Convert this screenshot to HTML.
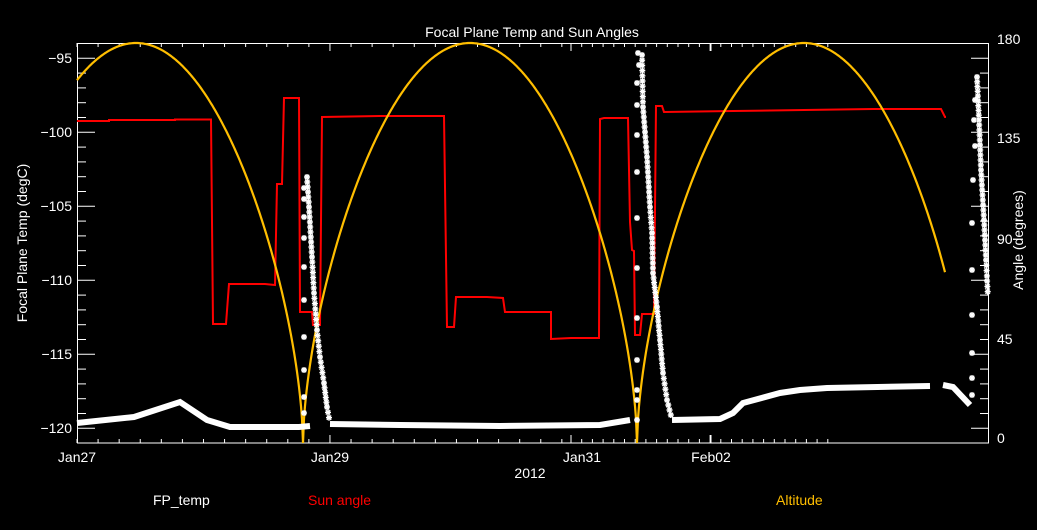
<!DOCTYPE html>
<html><head><meta charset="utf-8"><style>
html,body{margin:0;padding:0;background:#000;}
svg{display:block;}
text{font-family:"Liberation Sans",sans-serif;fill:#fff;}
</style></head><body>
<svg id="s" width="1037" height="530" viewBox="0 0 1037 530" xmlns="http://www.w3.org/2000/svg">
<rect width="1037" height="530" fill="#000"/>
<text x="532" y="37" font-size="14" text-anchor="middle">Focal Plane Temp and Sun Angles</text>
<g id="ax" stroke="#fff" stroke-width="1" fill="none"><rect x="77.5" y="43.5" width="911" height="399.5"/></g>
<g font-size="14" text-anchor="end">
<text x="72" y="63">−95</text><text x="72" y="137">−100</text><text x="72" y="211">−105</text>
<text x="72" y="285">−110</text><text x="72" y="359">−115</text><text x="72" y="433">−120</text>
</g>
<g font-size="14" text-anchor="start">
<text x="997" y="44">180</text><text x="997" y="143">135</text><text x="997" y="244">90</text>
<text x="997" y="344">45</text><text x="997" y="443">0</text>
</g>
<g font-size="14" text-anchor="middle">
<text x="77" y="462">Jan27</text><text x="330" y="462">Jan29</text><text x="582" y="462">Jan31</text>
<text x="711" y="462">Feb02</text><text x="530" y="478">2012</text>
</g>
<text transform="translate(27,243) rotate(-90)" font-size="14" text-anchor="middle">Focal Plane Temp (degC)</text>
<text transform="translate(1023,240) rotate(-90)" font-size="14" text-anchor="middle">Angle (degrees)</text>
<g font-size="14">
<text x="153" y="505">FP_temp</text>
<text x="308" y="505" style="fill:#ff0000">Sun angle</text>
<text x="776" y="505" style="fill:#ffbe00">Altitude</text>
</g>
<polyline fill="none" stroke="#ff0000" stroke-width="2" points="77,121 109,121 109,120 175,120 175,119.5 211,119.5 213,324 226,324 229,284 265,284 275,285 277,184 282,184 284,98 299,98 300,312 312,312 313,325 320,325 322,117 380,116 444,116 447,327 454,327 456,297 487,297 503,298 505,312 551,312 551,339 571,338 599,338 600,119 604,118 628,118 630,222 632,250 634,251 635,335 640,335 642,314 654,314 656,106 662,106 664,112 733,111 804,110 873,109 941,109 945,117 946,117"/>
<polyline id="alt" fill="none" stroke="#ffbe00" stroke-width="2.2"/>
<g id="fp"></g>
<path id="stars" fill="none" stroke="#fff" stroke-width="1.4"/>
</svg>
<script>
(function(){
var ns="http://www.w3.org/2000/svg",ax=document.getElementById('ax');
function L(x1,y1,x2,y2){var l=document.createElementNS(ns,'line');l.setAttribute('x1',x1);l.setAttribute('y1',y1);l.setAttribute('x2',x2);l.setAttribute('y2',y2);ax.appendChild(l);}
for(var i=0;i<=26;i++){var y=58.3+i*14.8;if(y>443)break;var len=(i%5==0)?18:9;L(77,y,77+len,y);L(989,y,989-len,y);}
var xs=[];for(var x=77;x<=571;x+=21.08)xs.push([x,Math.abs(x-330)<3?8:4]);
xs.push([571,8]);for(var x=581.7;x<830;x+=10.7)xs.push([x,Math.abs(x-711)<3?8:4]);xs.push([711,8]);
xs.forEach(function(t){L(t[0],443,t[0],443-t[1]);L(t[0],43,t[0],43+t[1]);});
var zeros=[-31,303,637,971],pts=[];
for(var x=77;x<=945;x+=1){var z=-31,w=334;for(var k=0;k<zeros.length-1;k++){if(x>=zeros[k]&&x<zeros[k+1]){z=zeros[k];w=zeros[k+1]-zeros[k];}}
var u=(x-z)/w;var f=Math.pow(Math.abs(Math.sin(Math.PI*u)),0.6);var a=180*f;pts.push(x+','+(443-a*400/180).toFixed(1));}
document.getElementById('alt').setAttribute('points',pts.join(' '));
var fp=document.getElementById('fp'),sd=[];
function band(p){var pl=document.createElementNS(ns,'polyline');pl.setAttribute('points',p.map(function(q){return q.join(',')}).join(' '));pl.setAttribute('fill','none');pl.setAttribute('stroke','#fff');pl.setAttribute('stroke-width','6');fp.appendChild(pl);}
function star(x,y){x=+x.toFixed(1);y=+y.toFixed(1);sd.push('M'+(x-3)+','+y+'h6M'+x+','+(y-3)+'v6M'+(x-2.2)+','+(y-2.2)+'l4.4,4.4M'+(x-2.2)+','+(y+2.2)+'l4.4,-4.4');}
function dense(p,step){for(var k=0;k<p.length-1;k++){var a=p[k],b=p[k+1],d=Math.hypot(b[0]-a[0],b[1]-a[1]),n=Math.max(1,Math.round(d/step));for(var j=0;j<n;j++)star(a[0]+(b[0]-a[0])*j/n,a[1]+(b[1]-a[1])*j/n);}}
band([[77,423],[134,417],[180,402],[207,420],[230,427],[299,427],[310,426]]);
band([[330,424],[400,425],[500,426],[600,425],[630,420]]);
band([[672,420],[720,419],[733,413],[743,403],[780,393],[800,390],[827,388],[930,386]]);
band([[943,385],[953,387],[970,405]]);
dense([[307,177],[309,207],[312,257],[314,293],[317,330],[320,357],[324,383],[327,407],[330,423]],5);
[[304,413],[304,397],[304,370],[304,337],[304,300],[304,267],[304,238],[304,217],[304,199],[304,188]].forEach(function(q){star(q[0],q[1]);});
dense([[642,55],[643,107],[647,157],[650,207],[652,233],[653,273],[657,307],[660,340],[663,373],[667,400],[672,420]],5);
[[637,420],[637,400],[637,390],[637,360],[637,318],[637,268],[637,218],[637,172],[637,135],[637,105],[637,83],[639,65],[638,53]].forEach(function(q){star(q[0],q[1]);});
dense([[977,77],[979,120],[981,170],[984,220],[986,260],[988,297]],5);
[[972,395],[972,378],[972,353],[972,315],[972,270],[972,223],[973,180],[975,146],[974,120],[975,100]].forEach(function(q){star(q[0],q[1]);});
document.getElementById('stars').setAttribute('d',sd.join(''));
})();
</script>
</body></html>
